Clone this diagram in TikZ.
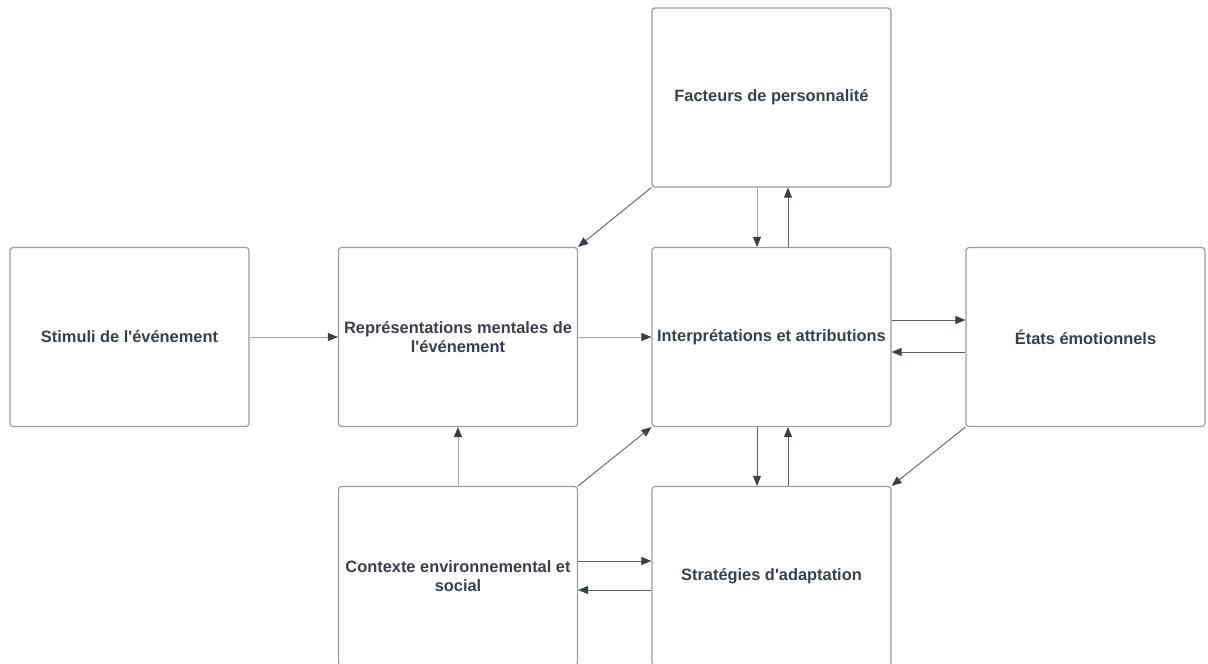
\documentclass[tikz,border=0pt]{standalone}
\usepackage{fontspec}
\setmainfont{Liberation Sans}
\usetikzlibrary{arrows.meta}
\definecolor{boxline}{HTML}{9A9CA1}
\definecolor{txt}{HTML}{3A404B}
\definecolor{darkline}{HTML}{5C6068}
\definecolor{lightline}{HTML}{A3A5AA}
\definecolor{tipc}{HTML}{3A3F4A}
\newcommand{\apo}{\textquotesingle}
\begin{document}
\begin{tikzpicture}[x=1pt,y=-1pt,
  box/.style={draw=boxline, line width=1.2pt, rounded corners=3pt, fill=white,
    minimum width=239pt, minimum height=179pt, inner sep=0pt,
    align=center, text=txt, font=\fontsize{16.4}{19.5}\selectfont\bfseries},
  arr/.style={draw=darkline, line width=0.9pt, -{Triangle[length=10pt,width=8pt,color=tipc,fill=tipc]}},
  larr/.style={draw=lightline, line width=0.9pt, -{Triangle[length=10pt,width=8pt,color=tipc,fill=tipc]}}]
\useasboundingbox (0,0) rectangle (1208,664);
\node[box] (stim) at (129.5,337) {Stimuli de l\apo événement};
\node[box] (repr) at (458,337) {Représentations mentales de\\l\apo événement};
\node[box] (interp) at (771.5,337) {Interprétations et attributions};
\node[box] (etats) at (1085.5,337) {États émotionnels};
\node[box] (fact) at (771.5,97.5) {Facteurs de personnalité};
\node[box] (ctx) at (458,576) {Contexte environnemental et\\social};
\node[box] (strat) at (771.5,576) {Stratégies d\apo adaptation};

\draw[larr] (stim.east) -- (repr.west);
\draw[larr] (repr.east) -- (interp.west);
\draw[arr] (fact.south west) -- (repr.north east);
\draw[larr] ([xshift=-14.5pt]fact.south) -- ([xshift=-14.5pt]interp.north);
\draw[arr] ([xshift=16.5pt]interp.north) -- ([xshift=16.5pt]fact.south);
\draw[arr] ([yshift=17pt]interp.east) -- ([yshift=17pt]etats.west);
\draw[arr] ([yshift=-15pt]etats.west) -- ([yshift=-15pt]interp.east);
\draw[larr] (ctx.north) -- (repr.south);
\draw[arr] (ctx.north east) -- (interp.south west);
\draw[arr] (etats.south west) -- (strat.north east);
\draw[arr] ([xshift=-14.5pt]interp.south) -- ([xshift=-14.5pt]strat.north);
\draw[arr] ([xshift=16.5pt]strat.north) -- ([xshift=16.5pt]interp.south);
\draw[arr] ([yshift=15pt]ctx.east) -- ([yshift=15pt]strat.west);
\draw[arr] ([yshift=-14pt]strat.west) -- ([yshift=-14pt]ctx.east);
\end{tikzpicture}
\end{document}
